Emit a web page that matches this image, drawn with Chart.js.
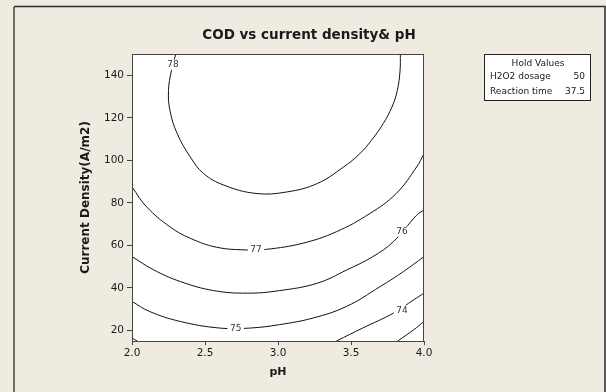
<!DOCTYPE html>
<html lang="en">
<head>
  <meta charset="UTF-8">
  <title>COD vs current density& pH</title>
  <script src="https://cdn.jsdelivr.net/npm/chart.js"></script>
  <style>
    html, body { margin: 0; padding: 0; background: #efebe0; }
    #wrap { width: 606px; height: 392px; }
  </style>
</head>
<body>
<div id="wrap"><canvas id="codChart" width="606" height="392"></canvas></div>

<script>
  // axis ticks
  const phTicks = [2.0, 2.5, 3.0, 3.5, 4.0];
  const densityTicks = [20, 40, 60, 80, 100, 120, 140];

  // contour lines (pH, current density)
  const ph78 = [2.30, 2.27, 2.25, 2.26, 2.31, 2.40, 2.49, 2.63, 2.85, 3.06, 3.27, 3.45, 3.56, 3.64, 3.72, 3.78, 3.817, 3.836, 3.838];
  const cd78 = [150, 142.2, 132.8, 123.4, 112.5, 101.5, 93.8, 88.3, 84.4, 85.1, 89.1, 96.9, 103.1, 109.4, 117.2, 125.0, 132.8, 142.2, 150];
  const ph77 = [2.00, 2.10, 2.26, 2.40, 2.58, 2.79, 2.92, 3.17, 3.40, 3.63, 3.81, 3.95, 4.00];
  const cd77 = [87.5, 78.1, 68.7, 63.3, 59.1, 57.8, 58.1, 61.0, 66.4, 75.0, 84.4, 96.9, 103.1];
  const ph76 = [2.00, 2.15, 2.33, 2.56, 2.79, 3.01, 3.27, 3.47, 3.65, 3.79, 3.95, 4.00];
  const cd76 = [54.7, 48.4, 43.0, 38.7, 37.5, 38.7, 42.2, 48.4, 54.7, 61.7, 74.2, 76.6];
  const ph75 = [2.00, 2.12, 2.33, 2.60, 2.81, 3.01, 3.24, 3.47, 3.70, 3.86, 4.00];
  const cd75 = [33.6, 28.9, 24.2, 21.1, 21.1, 22.7, 25.8, 31.3, 40.6, 47.7, 54.7];
  const ph74 = [3.40, 3.58, 3.79, 3.93, 4.00];
  const cd74 = [15, 21.1, 28.1, 34.4, 37.5];
  const ph74b = [2.00, 2.035];
  const cd74b = [16.4, 15];
  const ph73 = [3.82, 3.93, 4.00];
  const cd73 = [15, 20.3, 24.2];

  // contour labels
  const labelLevels = ['78', '77', '76', '75', '74'];
  const labelPh = [2.28, 2.85, 3.85, 2.71, 3.85];
  const labelCd = [145.0, 57.9, 66.4, 20.8, 29.5];

  // hold values legend
  const holdNames = ['H2O2 dosage', 'Reaction time'];
  const holdValues = ['50', '37.5'];

  const contours = [
    [ph78, cd78], [ph77, cd77], [ph76, cd76], [ph75, cd75],
    [ph74, cd74], [ph74b, cd74b], [ph73, cd73]
  ];

  const datasets = contours.map(([xs, ys]) => ({
    data: xs.map((x, i) => ({ x: x, y: ys[i] })),
    showLine: true,
    borderColor: '#111',
    borderWidth: 1,
    pointRadius: 0,
    tension: 0.4,
    fill: false
  }));

  const txt = '#1a1a1a';

  const decor = {
    id: 'decor',
    beforeDraw(chart) {
      const c = chart.ctx, a = chart.chartArea;
      c.save();
      c.fillStyle = '#efebe0';
      c.fillRect(0, 0, chart.width, chart.height);
      // outer frame
      c.strokeStyle = '#6e6e66';
      c.lineWidth = 2;
      c.beginPath(); c.moveTo(14, 400); c.lineTo(14, 7); c.stroke();
      c.strokeStyle = '#2a2a2a';
      c.lineWidth = 1.5;
      c.beginPath(); c.moveTo(14, 6.5); c.lineTo(605, 6.5); c.lineTo(605, 400); c.stroke();
      // plot background
      c.fillStyle = '#ffffff';
      c.fillRect(a.left, a.top, a.right - a.left, a.bottom - a.top);
      c.restore();
    },
    afterDraw(chart) {
      const c = chart.ctx, a = chart.chartArea;
      const xs = chart.scales.x, ys = chart.scales.y;
      c.save();
      // contour labels
      c.font = '9px "DejaVu Sans"';
      c.textAlign = 'center';
      c.textBaseline = 'middle';
      labelLevels.forEach((lab, i) => {
        const px = xs.getPixelForValue(labelPh[i]);
        const py = ys.getPixelForValue(labelCd[i]);
        const w = c.measureText(lab).width + 5;
        c.fillStyle = '#fff';
        c.fillRect(px - w / 2, py - 5, w, 10);
        c.fillStyle = '#333';
        c.fillText(lab, px, py);
      });
      // plot frame
      c.strokeStyle = '#444';
      c.lineWidth = 1;
      c.strokeRect(a.left + 0.5, a.top + 0.5, a.right - a.left - 1, a.bottom - a.top);
      // title
      c.fillStyle = txt;
      c.font = 'bold 13.5px "DejaVu Sans"';
      c.fillText('COD vs current density& pH', 309, 35);
      // hold values box
      c.fillStyle = '#fff';
      c.fillRect(484, 54, 106, 46);
      c.strokeStyle = '#222';
      c.strokeRect(484.5, 54.5, 106, 46);
      c.fillStyle = txt;
      c.font = '9px "DejaVu Sans"';
      c.fillText('Hold Values', 538, 63.5);
      holdNames.forEach((n, i) => {
        const y = 77 + i * 15;
        c.textAlign = 'left';
        c.fillText(n, 490, y);
        c.textAlign = 'right';
        c.fillText(holdValues[i], 585, y);
      });
      c.restore();
    }
  };

  const ctx = document.getElementById('codChart').getContext('2d');
  new Chart(ctx, {
    type: 'scatter',
    data: { datasets: datasets },
    options: {
      responsive: false,
      animation: false,
      layout: { padding: { left: 0, right: 182, top: 54, bottom: 0 } },
      plugins: { legend: { display: false }, tooltip: { enabled: false } },
      scales: {
        x: {
          type: 'linear', min: 2, max: 4,
          afterBuildTicks: s => { s.ticks = phTicks.map(v => ({ value: v })); },
          afterFit: s => { s.height = 51; },
          ticks: {
            color: txt, padding: 2,
            font: { family: 'DejaVu Sans', size: 10.5 },
            callback: v => Number(v).toFixed(1)
          },
          grid: { drawOnChartArea: false, tickLength: 4, color: '#444' },
          border: { color: '#444' },
          title: {
            display: true, text: 'pH', color: txt,
            font: { family: 'DejaVu Sans', size: 11, weight: 'bold' },
            padding: { top: 0, bottom: 13 }
          }
        },
        y: {
          type: 'linear', min: 15, max: 150,
          afterBuildTicks: s => { s.ticks = densityTicks.map(v => ({ value: v })); },
          afterFit: s => { s.width = 132; },
          ticks: {
            color: txt, padding: 3,
            font: { family: 'DejaVu Sans', size: 10.5 }
          },
          grid: { drawOnChartArea: false, tickLength: 5, color: '#444' },
          border: { color: '#444' },
          title: {
            display: true, text: 'Current Density(A/m2)', color: txt,
            font: { family: 'DejaVu Sans', size: 12, weight: 'bold' },
            padding: { top: 79, bottom: 0 }
          }
        }
      }
    },
    plugins: [decor]
  });
</script>
</body>
</html>
